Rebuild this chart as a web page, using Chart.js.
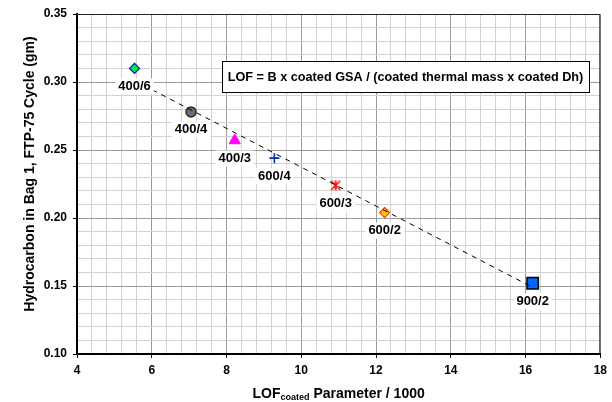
<!DOCTYPE html>
<html>
<head>
<meta charset="utf-8">
<script src="https://cdn.jsdelivr.net/npm/chart.js@4"></script>
<style>
  html, body { margin: 0; padding: 0; background: #fff; }
  #wrap { width: 612px; height: 402px; }
</style>
</head>
<body>
<div id="wrap"><canvas id="hcChart" width="612" height="402"></canvas></div>
<script>
const lofValues = [5.54, 7.05, 8.22, 9.28, 10.92, 12.23, 16.19];
const hcValues = [0.310, 0.278, 0.257, 0.244, 0.224, 0.204, 0.152];
const pointLabels = ["400/6", "400/4", "400/3", "600/4", "600/3", "600/2", "900/2"];
const trendLof = [5.54, 16.19];
const trendHc = [0.301, 0.149];

const FONT = "'Liberation Sans', Arial, sans-serif";

// asterisk marker (x + vertical bar) like the Excel star
const starImg = document.createElement("canvas");
starImg.width = 12;
starImg.height = 12;
(function () {
  const c = starImg.getContext("2d");
  c.strokeStyle = "#ff0000";
  c.lineWidth = 1.6;
  c.beginPath();
  c.moveTo(1.5, 1.5); c.lineTo(10.5, 10.5);
  c.moveTo(10.5, 1.5); c.lineTo(1.5, 10.5);
  c.moveTo(6, 1); c.lineTo(6, 11);
  c.stroke();
})();

const isMajor = (v, step) => Math.abs(v / step - Math.round(v / step)) < 1e-6;

const labelPlugin = {
  id: "labels",
  afterDatasetsDraw(chart) {
    const ctx = chart.ctx;
    const meta = chart.getDatasetMeta(1);
    ctx.save();
    ctx.font = "bold 13px " + FONT;
    ctx.textAlign = "center";
    ctx.textBaseline = "middle";
    meta.data.forEach((pt, i) => {
      const txt = pointLabels[i];
      const w = ctx.measureText(txt).width + 6;
      const y = pt.y + 18;
      ctx.fillStyle = "#fff";
      ctx.fillRect(pt.x - w / 2, y - 8, w, 16);
      ctx.fillStyle = "#000";
      ctx.fillText(txt, pt.x, y);
    });
    ctx.restore();
  },
  afterDraw(chart) {
    const ctx = chart.ctx;
    const a = chart.chartArea;
    ctx.save();
    // top / right frame
    ctx.strokeStyle = "#222";
    ctx.lineWidth = 1;
    ctx.beginPath();
    ctx.moveTo(a.left, a.top + 0.5);
    ctx.lineTo(a.right - 0.5, a.top + 0.5);
    ctx.lineTo(a.right - 0.5, a.bottom);
    ctx.stroke();

    // formula box
    ctx.fillStyle = "#fff";
    ctx.fillRect(222, 61, 367, 31);
    ctx.strokeStyle = "#000";
    ctx.strokeRect(222.5, 61.5, 367, 31);
    ctx.fillStyle = "#000";
    ctx.font = "bold 12.7px " + FONT;
    ctx.textAlign = "center";
    ctx.textBaseline = "middle";
    ctx.fillText("LOF = B x coated GSA / (coated thermal mass x coated Dh)", 405.5, 77);

    // y title
    ctx.save();
    ctx.translate(33.5, 174);
    ctx.rotate(-Math.PI / 2);
    ctx.font = "bold 14px " + FONT;
    ctx.textBaseline = "alphabetic";
    ctx.fillText("Hydrocarbon in Bag 1, FTP-75 Cycle (gm)", 0, 0);
    ctx.restore();

    // x title with subscript
    const big = "bold 14px " + FONT;
    const small = "bold 9px " + FONT;
    ctx.textAlign = "left";
    ctx.textBaseline = "alphabetic";
    ctx.font = big;
    const w1 = ctx.measureText("LOF").width;
    const w3 = ctx.measureText(" Parameter / 1000").width;
    ctx.font = small;
    const w2 = ctx.measureText("coated").width;
    let x = (a.left + a.right) / 2 - (w1 + w2 + w3) / 2;
    const base = 398;
    ctx.font = big;
    ctx.fillText("LOF", x, base);
    x += w1;
    ctx.font = small;
    ctx.fillText("coated", x, base + 2);
    x += w2;
    ctx.font = big;
    ctx.fillText(" Parameter / 1000", x, base);
    ctx.restore();
  }
};

new Chart(document.getElementById("hcChart").getContext("2d"), {
  type: "scatter",
  data: {
    datasets: [
      {
        label: "Trend",
        data: trendLof.map((x, i) => ({ x: x, y: trendHc[i] })),
        showLine: true,
        borderColor: "#000",
        borderWidth: 1,
        borderDash: [5, 5],
        pointRadius: 0,
        fill: false
      },
      {
        label: "Hydrocarbon",
        data: lofValues.map((x, i) => ({ x: x, y: hcValues[i] })),
        pointStyle: ["rectRot", "circle", "triangle", "cross", starImg, "rectRot", "rect"],
        pointRadius: [5, 5, 6.5, 5, 6, 5, 8],
        backgroundColor: ["#00ee33", "#666699", "#ff00ff", "#003399", "#ff0000", "#ffcc00", "#0066ff"],
        borderColor: ["#0000ff", "#333300", "#ff00ff", "#003399", "#ff0000", "#ff3300", "#000000"],
        borderWidth: [1.2, 1.5, 1, 1.6, 1, 1.2, 1.5]
      }
    ]
  },
  options: {
    responsive: false,
    animation: false,
    layout: { padding: { left: 0, top: 14, right: 8, bottom: 0 } },
    plugins: {
      legend: { display: false },
      tooltip: { enabled: false }
    },
    scales: {
      x: {
        type: "linear",
        min: 4,
        max: 18,
        afterFit: (s) => { s.height = 48; },
        border: { color: "#000", width: 2 },
        grid: {
          color: (c) => (isMajor(c.tick.value, 2) ? "#9a9a9a" : "#d2d2d2"),
          lineWidth: 1,
          tickLength: 4,
          tickColor: (c) => (isMajor(c.tick.value, 2) ? "#000" : "rgba(0,0,0,0)")
        },
        ticks: {
          stepSize: 0.4,
          autoSkip: false,
          maxRotation: 0,
          padding: 5,
          color: "#000",
          font: { family: FONT, size: 12, weight: "bold" },
          callback: (v) => (isMajor(v, 2) ? String(Math.round(v)) : "")
        }
      },
      y: {
        type: "linear",
        min: 0.1,
        max: 0.35,
        afterFit: (s) => { s.width = 77; },
        border: { color: "#000", width: 2 },
        grid: {
          color: (c) => (isMajor(c.tick.value, 0.05) ? "#9a9a9a" : "#d2d2d2"),
          lineWidth: 1,
          tickLength: 4,
          tickColor: (c) => (isMajor(c.tick.value, 0.05) ? "#000" : "rgba(0,0,0,0)")
        },
        ticks: {
          stepSize: 0.01,
          autoSkip: false,
          padding: 6,
          color: "#000",
          font: { family: FONT, size: 12, weight: "bold" },
          callback: (v) => (isMajor(v, 0.05) ? v.toFixed(2) : "")
        }
      }
    }
  },
  plugins: [labelPlugin]
});
</script>
</body>
</html>
